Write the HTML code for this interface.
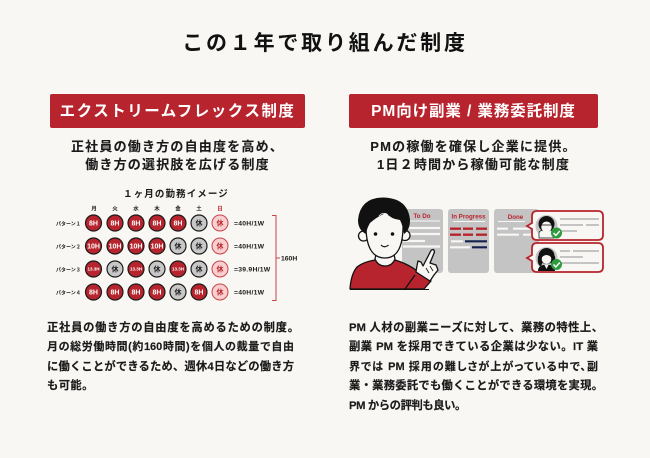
<!DOCTYPE html>
<html lang="ja"><head><meta charset="utf-8">
<style>
html,body{margin:0;padding:0}
#p{position:relative;width:650px;height:458px;background:#f8f7f4;overflow:hidden;font-family:"Liberation Sans","Noto Sans CJK JP",sans-serif;font-weight:700;color:#1a1a1a}
.t{position:absolute;white-space:nowrap;line-height:1}
.c{text-align:center}
.b{position:absolute;background:#b7242d;border-radius:2px;top:94px;height:34px}
.body{position:absolute;line-height:1.2;font-size:11.3px;-webkit-text-stroke:.15px #1a1a1a;text-align:justify;text-align-last:justify}
.sub{font-size:13px;letter-spacing:1.2px;-webkit-text-stroke:.1px #1a1a1a}
svg{position:absolute;left:0;top:0}
svg text{font-family:"Liberation Sans","Noto Sans CJK JP",sans-serif;font-weight:700}
</style></head><body><div id="p">
<div class="t c" style="left:0;width:650px;top:33px;font-size:21px;letter-spacing:2.8px;color:#111">この１年で取り組んだ制度</div>
<div class="b" style="left:50px;width:255px"></div>
<div class="b" style="left:349px;width:249px"></div>
<div class="t c" style="left:50px;width:255px;top:104px;font-size:15.5px;letter-spacing:1.5px;color:#fff">エクストリームフレックス制度</div>
<div class="t c" style="left:349px;width:249px;top:104px;font-size:15.5px;letter-spacing:.9px;color:#fff">PM向け副業 / 業務委託制度</div>
<div class="t c sub" style="left:50px;width:255px;top:140px">正社員の働き方の自由度を高め、</div>
<div class="t c sub" style="left:50px;width:255px;top:158px">働き方の選択肢を広げる制度</div>
<div class="t c sub" style="left:349px;width:249px;top:140px">PMの稼働を確保し企業に提供。</div>
<div class="t c sub" style="left:349px;width:249px;top:158px">1日２時間から稼働可能な制度</div>

<div class="body" style="left:47px;top:322px;width:252px">正社員の働き方の自由度を高めるための制度。</div>
<div class="body" style="left:47px;top:341px;width:247px;font-size:11px">月の総労働時間(約160時間)を個人の裁量で自由</div>
<div class="body" style="left:47px;top:361px;width:247px">に働くことができるため、週休4日などの働き方</div>
<div class="t" style="left:47px;top:381px;font-size:11.300px;letter-spacing:.4px;-webkit-text-stroke:.15px #1a1a1a">も可能。</div>

<div class="body" style="left:349px;top:322px;width:254px">PM 人材の副業ニーズに対して、業務の特性上、</div>
<div class="body" style="left:349px;top:341px;width:249px">副業 PM を採用できている企業は少ない。IT 業</div>
<div class="body" style="left:349px;top:361px;width:249px;font-size:11px;font-feature-settings:'palt'">界では PM 採用の難しさが上がっている中で、副</div>
<div class="body" style="left:349px;top:380px;width:254px">業・業務委託でも働くことができる環境を実現。</div>
<div class="t" style="left:349px;top:401px;font-size:11.300px;letter-spacing:-.4px;-webkit-text-stroke:.15px #1a1a1a">PM からの評判も良い。</div>
<svg width="650" height="458" viewBox="0 0 650 458">
<text x="176" y="197" font-size="9.500" letter-spacing="1.100" text-anchor="middle" fill="#1a1a1a">１ヶ月の勤務イメージ</text>
<g font-size="5.500" text-anchor="middle" fill="#222">
<text x="94" y="210.500">月</text><text x="115" y="210.500">火</text><text x="136" y="210.500">水</text><text x="157" y="210.500">木</text><text x="178" y="210.500">金</text><text x="199" y="210.500">土</text><text x="220" y="210.500" fill="#b7242d">日</text>
</g>
<g font-size="5" fill="#222">
<text x="56" y="225.500">パターン１</text><text x="56" y="248.500">パターン２</text><text x="56" y="271.500">パターン３</text><text x="56" y="294.500">パターン４</text>
</g>
<g stroke="#1a1a1a" stroke-width="1.200" fill="#b7242d">
<circle cx="93.500" cy="223" r="8"/><circle cx="115" cy="223" r="8"/><circle cx="136" cy="223" r="8"/><circle cx="157" cy="223" r="8"/><circle cx="178" cy="223" r="8"/>
<circle cx="93.500" cy="246" r="8"/><circle cx="115" cy="246" r="8"/><circle cx="136" cy="246" r="8"/><circle cx="157" cy="246" r="8"/>
<circle cx="93.500" cy="269" r="8"/><circle cx="136" cy="269" r="8"/><circle cx="178" cy="269" r="8"/>
<circle cx="93.500" cy="292" r="8"/><circle cx="115" cy="292" r="8"/><circle cx="136" cy="292" r="8"/><circle cx="157" cy="292" r="8"/><circle cx="199" cy="292" r="8"/>
</g>
<g stroke="#1a1a1a" stroke-width="1.200" fill="#c8c8c8">
<circle cx="199" cy="223" r="8"/><circle cx="178" cy="246" r="8"/><circle cx="199" cy="246" r="8"/>
<circle cx="115" cy="269" r="8"/><circle cx="157" cy="269" r="8"/><circle cx="199" cy="269" r="8"/>
<circle cx="178" cy="292" r="8"/>
</g>
<g stroke="#c9434a" stroke-width="1" fill="#f9cfcf">
<circle cx="220" cy="223" r="8"/><circle cx="220" cy="246" r="8"/><circle cx="220" cy="269" r="8"/><circle cx="220" cy="292" r="8"/>
</g>
<g font-size="7" text-anchor="middle" fill="#fff">
<text x="93.500" y="225.500">8H</text><text x="115" y="225.500">8H</text><text x="136" y="225.500">8H</text><text x="157" y="225.500">8H</text><text x="178" y="225.500">8H</text>
<text x="93.500" y="248.500">10H</text><text x="115" y="248.500">10H</text><text x="136" y="248.500">10H</text><text x="157" y="248.500">10H</text>
<text x="93.500" y="294.500">8H</text><text x="115" y="294.500">8H</text><text x="136" y="294.500">8H</text><text x="157" y="294.500">8H</text><text x="199" y="294.500">8H</text>
<g font-size="4.500"><text x="93.500" y="270.700">13.3H</text><text x="136" y="270.700">13.3H</text><text x="178" y="270.700">13.3H</text></g>
</g>
<g font-size="7" text-anchor="middle" fill="#1a1a1a">
<text x="199" y="225.500">休</text><text x="178" y="248.500">休</text><text x="199" y="248.500">休</text><text x="115" y="271.500">休</text><text x="157" y="271.500">休</text><text x="199" y="271.500">休</text><text x="178" y="294.500">休</text>
</g>
<g font-size="7" text-anchor="middle" fill="#b7242d">
<text x="220" y="225.500">休</text><text x="220" y="248.500">休</text><text x="220" y="271.500">休</text><text x="220" y="294.500">休</text>
</g>
<g font-size="6.800" fill="#1a1a1a" letter-spacing=".25">
<text x="234" y="225.500">=40H/1W</text><text x="234" y="248.500">=40H/1W</text><text x="234" y="271.500">=39.9H/1W</text><text x="234" y="294.500">=40H/1W</text>
</g>
<path d="M272 215.500H276V300.500H272M276 258H280" fill="none" stroke="#c9434a" stroke-width="1"/>
<text x="281" y="260.500" font-size="6.800" fill="#1a1a1a">160H</text>

<rect x="402" y="209" width="41" height="64" rx="3" fill="#c4c4c4"/>
<rect x="448" y="209" width="41" height="64" rx="3" fill="#c4c4c4"/>
<rect x="494" y="209" width="45" height="64" rx="3" fill="#c4c4c4"/>
<g font-size="6.200" fill="#b7242d" text-anchor="middle">
<text x="422" y="218">To Do</text><text x="468.500" y="218.500">In Progress</text><text x="515.500" y="219">Done</text>
</g>
<g stroke="#f8f7f4" stroke-width="1" fill="none">
<path d="M407 221H440M453 221.500H485M498 221.500H525"/>
</g>
<g stroke="#f8f7f4" stroke-width="2.200" fill="none">
<path d="M403 228H440M403 234H440M403 241H425M403 246.500H440"/>
<path d="M451 241.300H463M450 247.300H470"/>
<path d="M497 228.700H508M513 228.700H530M497 234.700H519M523 234.700H532"/>
</g>
<g stroke="#b7242d" stroke-width="2.400" fill="none">
<path d="M450 228.700H461M463 228.700H473M476 228.700H487"/>
<path d="M450 234.700H461M463 234.700H473M476 234.700H487"/>
</g>
<path d="M465 241.300H487M472 247.300H487" stroke="#14204f" stroke-width="2.200" fill="none"/>

<path d="M537 211H598Q603 211 603 216V235Q603 240 598 240H537Q532 240 532 235V229L527 226L532 223V216Q532 211 537 211Z" fill="#f8f7f4" stroke="#b7242d" stroke-width="1.800"/>
<path d="M537 243H598Q603 243 603 248V267Q603 272 598 272H537Q532 272 532 267V261L527 258L532 255V248Q532 243 537 243Z" fill="#f8f7f4" stroke="#b7242d" stroke-width="1.800"/>
<g stroke="#c4c4c4" stroke-width="2" fill="none">
<path d="M560 219H599M560 225H583M586 225H599M560 231H577"/>
<path d="M560 251H570M573 251H599M560 257H583M560 263H599"/>
</g>
<circle cx="546.500" cy="226" r="11" fill="#c4c4c4"/><circle cx="546.500" cy="258" r="11" fill="#c4c4c4"/>
<path d="M539 238V233Q539 231 543 230H550Q554 231 554 233V238Z" fill="#f8f7f4" stroke="#111" stroke-width=".7"/>
<circle cx="546.500" cy="224" r="8" fill="#111"/>
<ellipse cx="546.500" cy="227" rx="5.200" ry="5.500" fill="#f8f7f4"/>
<path d="M541 224Q546.500 219 552 224L552 220H541Z" fill="#111"/>
<path d="M541 225H552" stroke="#111" stroke-width=".8"/>
<circle cx="546.500" cy="256" r="8" fill="#111"/>
<path d="M538 256Q537 266 541 266L544 259ZM555 256Q556 266 552 266L549 259Z" fill="#111"/>
<ellipse cx="546.500" cy="259" rx="4.800" ry="5" fill="#f8f7f4"/>
<path d="M541 258Q546.500 252 552 258L552 253H541Z" fill="#111"/>
<path d="M538 271Q538 266 543 265H550Q555 266 555 271Z" fill="#111"/>
<path d="M544.500 265L546.500 269L548.500 265Z" fill="#f8f7f4"/>
<circle cx="556.500" cy="233" r="5.500" fill="#2e9b3f"/><circle cx="556.500" cy="264.500" r="5.500" fill="#2e9b3f"/>
<path d="M553.500 233L555.800 235.500L559.800 231M553.500 264.500L555.800 267L559.800 262.500" fill="none" stroke="#fff" stroke-width="1.400"/>

<path d="M350 289Q351 274 357 267Q363 262 375 260L395 260Q405 263 413 268L431 281L424 289Z" fill="#b7242d" stroke="#111" stroke-width="1.300" stroke-linejoin="round"/>
<path d="M415 275L405 289" fill="none" stroke="#111" stroke-width="1.300"/>
<path d="M375 259Q378 266 385 266Q392 266 395 259L393 250H377Z" fill="#f8f7f4" stroke="#111" stroke-width="1.300"/>
<path d="M416 272Q417 265 418 261L421 262L423 266L431 250.500Q434 248 434.500 252L430 263L436 265L438 270L434 275L430 281Z" fill="#f8f7f4" stroke="#111" stroke-width="1.300" stroke-linejoin="round"/>
<path d="M426 268L429 273M430 266L433 271" stroke="#111" stroke-width=".8" fill="none"/>
<circle cx="363.500" cy="236" r="5" fill="#f8f7f4" stroke="#111" stroke-width="1.300"/>
<circle cx="405" cy="235.500" r="5" fill="#f8f7f4" stroke="#111" stroke-width="1.300"/>
<path d="M366 222Q365 258 385 258Q404 258 403 222Q403 208 385 208Q366 208 366 222Z" fill="#f8f7f4" stroke="#111" stroke-width="1.300"/>
<path d="M366 234Q358 230 358 220Q360 198 383 197.500Q408 198 410 220Q410 230 404 234Q403 226 400 220Q391 219 386 213Q378 216 370 223Q367 228 366 234Z" fill="#111"/>
<path d="M379 216Q383 211 388 215M381 218Q384 214 389 217" stroke="#f8f7f4" stroke-width=".7" fill="none"/>
<circle cx="375.500" cy="234" r="1.800" fill="#111"/><circle cx="392.500" cy="234" r="1.800" fill="#111"/>
<path d="M381 245Q384.500 248.500 388.500 245" fill="none" stroke="#111" stroke-width="1.100"/>
<rect x="340" y="289.500" width="100" height="8" fill="#f8f7f4"/>
<path d="M350 289.500H429" stroke="#111" stroke-width="1"/>
</svg>
</div></body></html>
